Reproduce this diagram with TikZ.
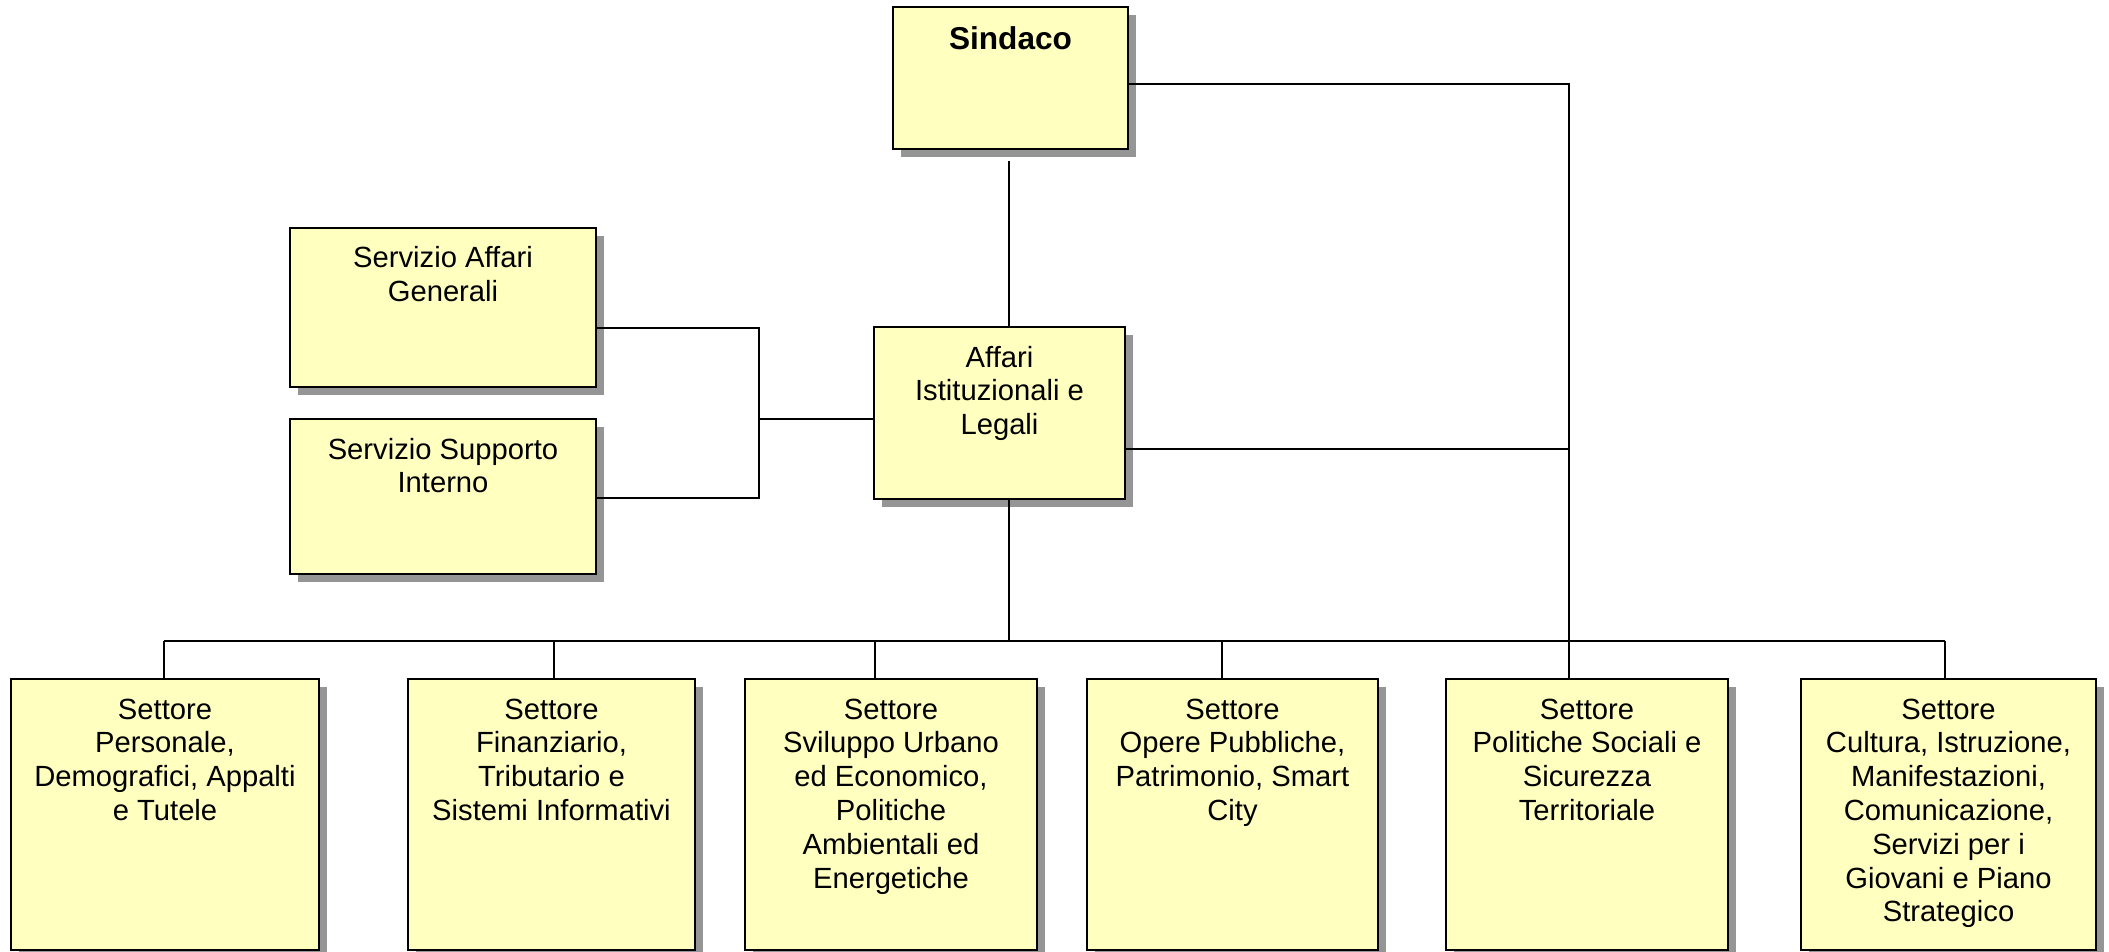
\documentclass[tikz,border=0pt]{standalone}
\usepackage{fontspec}
\setmainfont{Liberation Sans}
\usetikzlibrary{shadows}
\definecolor{boxfill}{HTML}{FFFFC0}
\definecolor{shadowgray}{HTML}{959595}
\newcommand{\orgtext}[4][20pt]{\parbox[t][#3][t]{#2}{\centering\rule{0pt}{#1}#4}}
\tikzset{
  orgbox/.style={draw, line width=1.2pt, fill=boxfill, inner sep=0pt, outer sep=0pt, anchor=north west,
    font=\fontsize{14.6}{16.9}\selectfont,
    drop shadow={shadow xshift=4pt, shadow yshift=-4pt, fill=shadowgray, opacity=1}},
  conn/.style={line width=0.75pt, black}
}
\begin{document}
\begin{tikzpicture}[x=0.5pt,y=-0.5pt]
\useasboundingbox (0,0) rectangle (2109,952);
% boxes
\node[orgbox] (sin) at (893,7) {\orgtext[21.5pt]{117.5pt}{71pt}{\fontsize{15.8}{18}\selectfont\bfseries Sindaco}};
\node[orgbox] (sag) at (290,228) {\orgtext{153pt}{79.5pt}{Servizio Affari\\Generali}};
\node[orgbox] (ssi) at (290,419) {\orgtext{153pt}{77.5pt}{Servizio Supporto\\Interno}};
\node[orgbox] (aff) at (874,327) {\orgtext{125.5pt}{86pt}{Affari\\Istituzionali e\\Legali}};
\node[orgbox] (b1) at (11,679) {\orgtext{154pt}{135.5pt}{Settore\\Personale,\\Demografici, Appalti\\e Tutele}};
\node[orgbox] (b2) at (408,679) {\orgtext{143.5pt}{135.5pt}{Settore\\Finanziario,\\Tributario e\\Sistemi Informativi}};
\node[orgbox] (b3) at (745,679) {\orgtext{146pt}{135.5pt}{Settore\\Sviluppo Urbano\\ed Economico,\\Politiche\\Ambientali ed\\Energetiche}};
\node[orgbox] (b4) at (1087,679) {\orgtext{145.5pt}{135.5pt}{Settore\\Opere Pubbliche,\\Patrimonio, Smart\\City}};
\node[orgbox] (b5) at (1446,679) {\orgtext{141pt}{135.5pt}{Settore\\Politiche Sociali e\\Sicurezza\\Territoriale}};
\node[orgbox] (b6) at (1801,679) {\orgtext{147.5pt}{135.5pt}{Settore\\Cultura, Istruzione,\\Manifestazioni,\\Comunicazione,\\Servizi per i\\Giovani e Piano\\Strategico}};
% coordinates
\coordinate (sinR) at (1569,84);
\coordinate (affR) at (1569,449);
\coordinate (sinB) at (1009,161);
\coordinate (busL) at (164,641);
\coordinate (busR) at (1945,641);
\coordinate (d1) at (164,641);
\coordinate (d2) at (554,641);
\coordinate (d3) at (875,641);
\coordinate (d4) at (1222,641);
\coordinate (d5) at (1569,641);
\coordinate (d6) at (1945,641);
\coordinate (lt) at (759,328);
\coordinate (lm) at (759,419);
\coordinate (lb) at (759,498);
% connectors
\draw[conn] (sin.east |- sinR) -- (sinR) -- (d5 |- b5.north);
\draw[conn] (aff.east |- affR) -- (affR);
\draw[conn] (sinB) -- (sinB |- aff.north);
\draw[conn] (sinB |- aff.south) -- (sinB |- busL);
\draw[conn] (busL) -- (busR);
\foreach \i in {1,2,3,4,6} { \draw[conn] (d\i) -- (d\i |- b\i.north); }
\draw[conn] (sag.east |- lt) -- (lt) -- (lb) -- (ssi.east |- lb);
\draw[conn] (lm) -- (aff.west |- lm);
\end{tikzpicture}
\end{document}
